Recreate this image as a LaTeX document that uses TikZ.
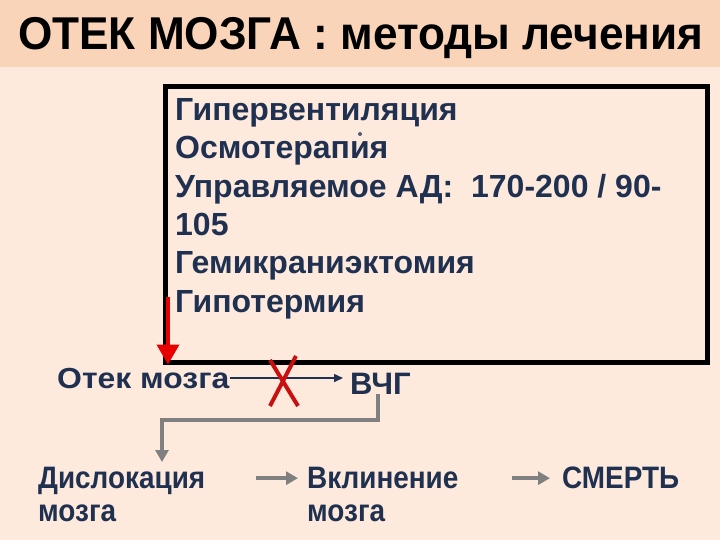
\documentclass[tikz,border=0pt]{standalone}
\usepackage{fontspec}
\setmainfont{Liberation Sans}
\newfontfamily\narrowfont{Liberation Sans}[FakeStretch=0.9]
\newfontfamily\titlefont{Liberation Sans}[FakeStretch=0.96]
\newfontfamily\widefont{Liberation Sans}[FakeStretch=1.1]
\usetikzlibrary{arrows.meta}

\definecolor{band}{RGB}{250,212,184}
\definecolor{paper}{RGB}{253,234,220}
\definecolor{navy}{RGB}{31,48,80}
\definecolor{xred}{RGB}{200,16,16}
\definecolor{arrowred}{RGB}{232,0,0}

\tikzset{
  txt/.style={inner sep=0pt, text=navy, font=\bfseries},
  stage/.style={txt, anchor=north west, align=left, font=\narrowfont\bfseries\fontsize{31}{33}\selectfont},
  grayarrow/.style={draw=gray, line width=4pt, -{Triangle[length=12pt,width=13pt]}},
}

\begin{document}
\begin{tikzpicture}[x=1pt,y=-1pt]
\useasboundingbox (0,0) rectangle (720,540);
\fill[paper] (0,0) rectangle (720,540);
\fill[band] (0,0) rectangle (720,67);
\node[inner sep=0pt, anchor=base west, font=\titlefont\bfseries\fontsize{46}{50}\selectfont] (title) at (18,50) {ОТЕК МОЗГА : методы лечения};

\node[draw=black, line width=5pt, minimum width=542pt, minimum height=275pt, inner sep=0pt] (box) at (436,224.5) {};
\node[txt, anchor=north west, align=left, font=\bfseries\fontsize{32}{38.4}\selectfont] (meth) at (175,98)
  {Гипервентиляция\\Осмотерапия\\Управляемое АД:~~170-200 / 90-\\105\\Гемикраниэктомия\\Гипотермия};
\fill[navy!80] (360,134) circle (2pt);

\coordinate (rtop) at (168,297);
\draw[arrowred, line width=4pt, -{Triangle[length=20pt,width=22pt]}] (rtop) -- (rtop |- box.south);

\node[txt, anchor=base west, font=\widefont\bfseries\fontsize{29}{32}\selectfont] (edema) at (57,388) {Отек мозга};
\node[txt, anchor=base west, font=\bfseries\fontsize{31}{34}\selectfont] (icp) at (350,394) {ВЧГ};
\draw[navy, line width=1.5pt, shorten >=7pt, -{Triangle[length=9pt,width=8pt]}] (edema.east) -- (edema.east -| icp.west);
\draw[xred, line width=4pt] (270,360) -- (298,406) (296,356) -- (270,406);

\node[stage] (disl) at (38,467) {Дислокация\\мозга};
\node[stage] (wedge) at (307,467) {Вклинение\\мозга};
\node[stage] (death) at (562,467) {СМЕРТЬ};

\draw[grayarrow, shorten >=5pt] ([xshift=-2pt]icp.south) -- ++(0,26) -| (disl.north -| 162,0);
\draw[grayarrow, shorten <=51pt, shorten >=9pt] (disl.east |- death) -- (wedge.west |- death);
\draw[grayarrow, shorten <=53pt, shorten >=12pt] (wedge.east |- death) -- (death.west);
\end{tikzpicture}
\end{document}
